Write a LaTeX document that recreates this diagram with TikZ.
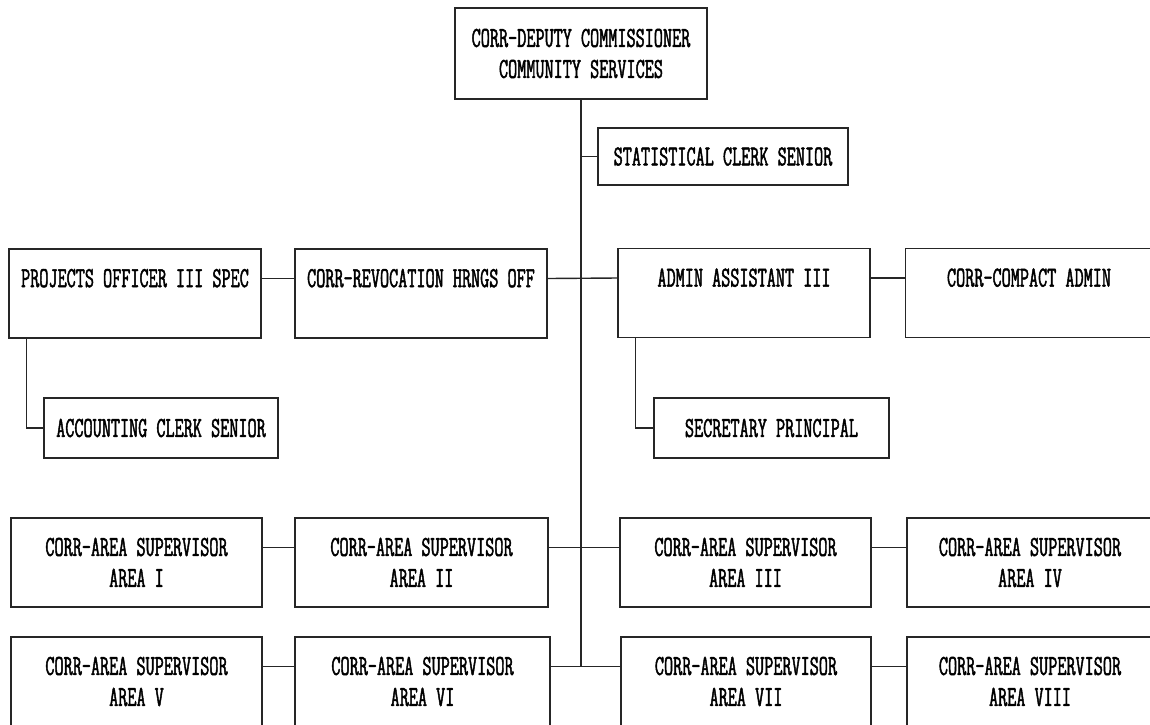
\documentclass[tikz,border=0pt]{standalone}
\usepackage{fontspec}
\newfontfamily\chartfont[FakeStretch=0.61, FakeBold=1.6]{Latin Modern Mono}
\begin{document}
\begin{tikzpicture}[x=1pt, y=-1pt, font=\chartfont\fontsize{29}{31}\selectfont]
	\tikzset{
		post/.style={draw=black!85, line width=1.4pt, align=center, inner sep=0pt,
			minimum width=252pt, minimum height=89pt},
		smallpost/.style={post, minimum height=60pt},
		link/.style={draw=black!85, line width=1.4pt}
	}
	% Khung hinh
	\useasboundingbox (0,0) rectangle (1150,724);
	\clip (0,0) rectangle (1150,724);
	
	% Cap tren cung
	\node[post, minimum height=91pt] (dep) at (581,53.5) {CORR-DEPUTY COMMISSIONER\\COMMUNITY SERVICES};
	\node[post, minimum width=250pt, minimum height=57pt] (stat) at (723,156.5) {STATISTICAL CLERK SENIOR};
	
	% Hang thu hai
	\node[post] (proj) at (135,293.5) {PROJECTS OFFICER III SPEC\\\mbox{}};
	\node[post] (revoc) at (421,293.5) {CORR-REVOCATION HRNGS OFF\\\mbox{}};
	\node[post] (admin) at (744,293) {ADMIN ASSISTANT III\\\mbox{}};
	\node[post, minimum width=247pt] (compact) at (1029,293) {CORR-COMPACT ADMIN\\\mbox{}};
	\node[smallpost, minimum width=234pt] (acct) at (161,428) {ACCOUNTING CLERK SENIOR};
	\node[smallpost, minimum width=235pt] (sec) at (771.5,428) {SECRETARY PRINCIPAL};
	
	% Cac khu vuc
	\node[post, minimum width=251pt] (a1) at (136.5,562.5) {CORR-AREA SUPERVISOR\\AREA I};
	\node[post, minimum width=253pt] (a2) at (421.5,562.5) {CORR-AREA SUPERVISOR\\AREA II};
	\node[post, minimum width=251pt] (a3) at (745.5,562.5) {CORR-AREA SUPERVISOR\\AREA III};
	\node[post, minimum width=246pt] (a4) at (1030,562.5) {CORR-AREA SUPERVISOR\\AREA IV};
	\node[post, minimum width=251pt] (a5) at (136.5,681.5) {CORR-AREA SUPERVISOR\\AREA V};
	\node[post, minimum width=255pt] (a6) at (422.5,681.5) {CORR-AREA SUPERVISOR\\AREA VI};
	\node[post, minimum width=250pt] (a7) at (746,681.5) {CORR-AREA SUPERVISOR\\AREA VII};
	\node[post, minimum width=246pt] (a8) at (1030,681.5) {CORR-AREA SUPERVISOR\\AREA VIII};
	
	% Duong truc chinh
	\draw[link] (dep.south) -- ([yshift=15pt]dep.south |- a6.east);
	\draw[link] (dep.south |- stat.west) -- (stat.west);
	
	% Noi hang thu hai
	\draw[link] ([yshift=15pt]proj.east) -- ([yshift=15pt]revoc.west);
	\draw[link] ([yshift=15pt]revoc.east) -- ([yshift=15pt]admin.west);
	\draw[link] ([yshift=15pt]admin.east) -- ([yshift=15pt]compact.west);
	\draw[link] ([xshift=18pt]proj.south west) |- (acct.west);
	\draw[link] ([xshift=18pt]admin.south west) |- (sec.west);
	
	% Noi cac khu vuc
	\draw[link] ([yshift=15pt]a1.east) -- ([yshift=15pt]a2.west);
	\draw[link] ([yshift=15pt]a2.east) -- ([yshift=15pt]a3.west);
	\draw[link] ([yshift=15pt]a3.east) -- ([yshift=15pt]a4.west);
	\draw[link] ([yshift=15pt]a5.east) -- ([yshift=15pt]a6.west);
	\draw[link] ([yshift=15pt]a6.east) -- ([yshift=15pt]a7.west);
	\draw[link] ([yshift=15pt]a7.east) -- ([yshift=15pt]a8.west);
\end{tikzpicture}
\end{document}
